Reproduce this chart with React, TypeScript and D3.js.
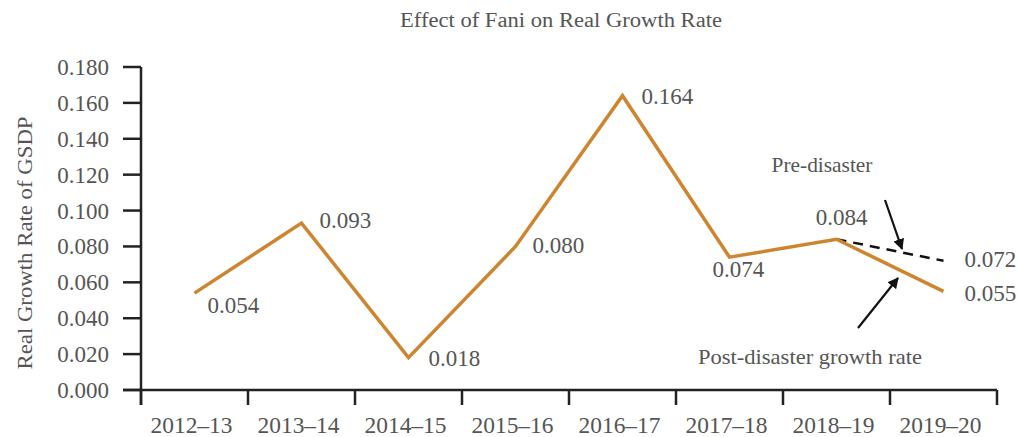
import React from "react";
import * as d3 from "d3";

const categories = ["2012–13", "2013–14", "2014–15", "2015–16", "2016–17", "2017–18", "2018–19", "2019–20"];
const postValues = [0.054, 0.093, 0.018, 0.08, 0.164, 0.074, 0.084, 0.055];
const preCategories = ["2018–19", "2019–20"];
const preValues = [0.084, 0.072];
const yTicks = [0, 0.02, 0.04, 0.06, 0.08, 0.1, 0.12, 0.14, 0.16, 0.18];

// label offsets per point [dx, dy, anchor]
const labelOffsets: [number, number, string][] = [
  [13, 12, "start"],
  [18, -3, "start"],
  [20, 0, "start"],
  [17, -1, "start"],
  [19, 0, "start"],
  [-17, 12, "start"],
  [5, -22, "middle"],
  [21, 2, "start"],
];
const preLabelOffset: [number, number] = [21, -2];

const W = 1019;
const H = 437;
const FONT = "'Liberation Serif', 'Times New Roman', serif";
const TEXT = "#555";
const AXIS = "#222";
const ORANGE = "#CD8530";
const NUM_SIZE = 23;

export default function App() {
  const x = d3.scaleBand<string>().domain(categories).range([141, 997]).padding(0);
  const y = d3.scaleLinear().domain([0, 0.18]).range([390, 67]);
  const cx = (c: string) => (x(c) as number) + x.bandwidth() / 2;

  const line = d3
    .line<number>()
    .x((_, i) => cx(categories[i]))
    .y((d) => y(d));
  const preLine = d3
    .line<number>()
    .x((_, i) => cx(preCategories[i]))
    .y((d) => y(d));

  const boundaries = categories.map((c) => x(c) as number).concat([x.range()[1]]);

  return (
    <svg width={W} height={H} style={{ display: "block", position: "absolute", left: 0, top: 0 }}>
      <defs>
        <marker id="ah" viewBox="0 0 10 10" refX="9" refY="5" markerWidth="5" markerHeight="5" orient="auto">
          <path d="M0,0 L10,5 L0,10 z" fill="#111" />
        </marker>
      </defs>
      <rect width={W} height={H} fill="#fff" />
      <text x={561} y={27} textAnchor="middle" fontFamily={FONT} fontSize={20} fill={TEXT} textLength={322} lengthAdjust="spacingAndGlyphs">
        Effect of Fani on Real Growth Rate
      </text>
      <text
        transform={`translate(32,243) rotate(-90)`}
        textAnchor="middle"
        fontFamily={FONT}
        fontSize={22}
        fill={TEXT}
        textLength={253}
        lengthAdjust="spacingAndGlyphs"
      >
        Real Growth Rate of GSDP
      </text>
      {/* y axis */}
      <line x1={141} x2={141} y1={y(0.18)} y2={405} stroke={AXIS} strokeWidth={2.5} />
      {yTicks.map((t) => (
        <g key={t}>
          <line x1={123} x2={141} y1={y(t)} y2={y(t)} stroke={AXIS} strokeWidth={2.5} />
          <text x={109} y={y(t)} dy="0.35em" textAnchor="end" fontFamily={FONT} fontSize={NUM_SIZE} fill={TEXT}>
            {t.toFixed(3)}
          </text>
        </g>
      ))}
      {/* x axis */}
      <line x1={123} x2={997} y1={y(0)} y2={y(0)} stroke={AXIS} strokeWidth={2.5} />
      {boundaries.map((b, i) => (
        <line key={i} x1={b} x2={b} y1={y(0)} y2={405} stroke={AXIS} strokeWidth={2.5} />
      ))}
      {categories.map((c) => (
        <text key={c} x={cx(c) - 3} y={425} dy="0.35em" textAnchor="middle" fontFamily={FONT} fontSize={NUM_SIZE} fill={TEXT} textLength={82} lengthAdjust="spacingAndGlyphs">
          {c}
        </text>
      ))}
      {/* pre-disaster dashed */}
      <path d={preLine(preValues) || ""} fill="none" stroke="#111" strokeWidth={2.5} strokeDasharray="10,7" />
      {/* post line */}
      <path d={line(postValues) || ""} fill="none" stroke={ORANGE} strokeWidth={3.5} strokeLinejoin="miter" />
      {postValues.map((v, i) => {
        const [dx, dy, anchor] = labelOffsets[i];
        return (
          <text
            key={i}
            x={cx(categories[i]) + dx}
            y={y(v) + dy}
            dy="0.35em"
            textAnchor={anchor as any}
            fontFamily={FONT}
            fontSize={NUM_SIZE}
            fill={TEXT}
          >
            {v.toFixed(3)}
          </text>
        );
      })}
      <text
        x={cx(preCategories[1]) + preLabelOffset[0]}
        y={y(preValues[1]) + preLabelOffset[1]}
        dy="0.35em"
        fontFamily={FONT}
        fontSize={NUM_SIZE}
        fill={TEXT}
      >
        {preValues[1].toFixed(3)}
      </text>
      {/* annotations */}
      <text x={822} y={165} dy="0.35em" textAnchor="middle" fontFamily={FONT} fontSize={21} fill={TEXT} textLength={101} lengthAdjust="spacingAndGlyphs">
        Pre-disaster
      </text>
      <line x1={885} y1={200} x2={902} y2={249} stroke="#111" strokeWidth={2.2} markerEnd="url(#ah)" />
      <text x={810} y={357} dy="0.35em" textAnchor="middle" fontFamily={FONT} fontSize={21} fill={TEXT} textLength={224} lengthAdjust="spacingAndGlyphs">
        Post-disaster growth rate
      </text>
      <line x1={858} y1={328} x2={898} y2={278} stroke="#111" strokeWidth={2.2} markerEnd="url(#ah)" />
    </svg>
  );
}
